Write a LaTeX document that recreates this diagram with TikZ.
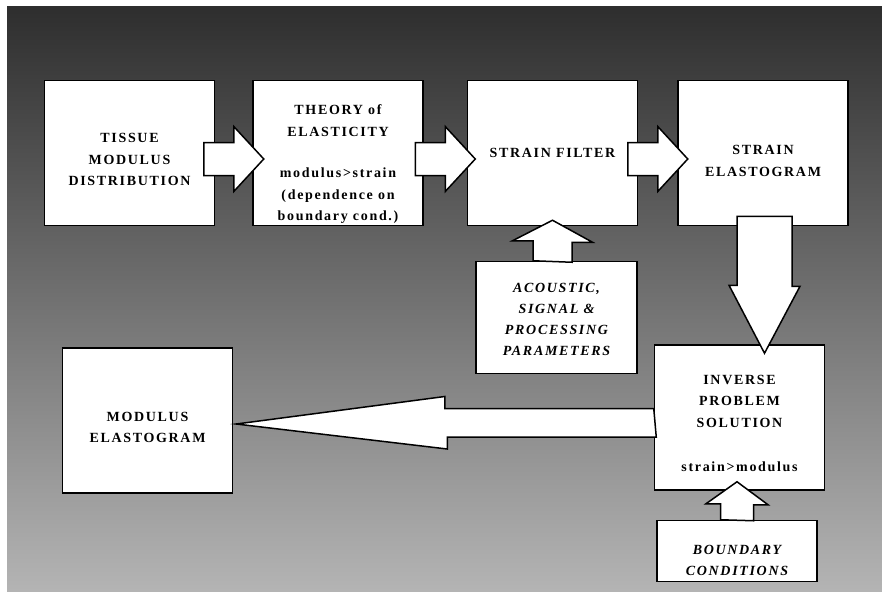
\documentclass[tikz,border=0pt]{standalone}
\usepackage{fontspec}
\usepackage{tikz}
\usetikzlibrary{calc,positioning}
\newfontfamily\boxfont{Liberation Serif}[LetterSpace=12]
\definecolor{bgtop}{RGB}{46,46,46}
\definecolor{bgbottom}{RGB}{180,180,180}
\newcommand{\textdrop}[1]{\rule{0pt}{#1}}

\begin{document}
\begin{tikzpicture}[x=1pt,y=-1pt]
			\tikzstyle{box}=[draw=black,fill=white,line width=1.5pt,inner sep=0pt,minimum width=170pt,minimum height=145pt,align=center,font=\boxfont\bfseries\fontsize{14}{21.5}\selectfont]
			\tikzstyle{inbox}=[box,font=\boxfont\bfseries\itshape\fontsize{14}{21}\selectfont]
			\tikzstyle{blockarrow}=[draw=black,fill=white,line width=1.5pt,line join=miter]
			\fill[white] (0,0) rectangle (882,591);
			\useasboundingbox (0,0) rectangle (882,591);
			\shade[top color=bgtop,bottom color=bgbottom] (7,7) rectangle (882,591);
			% top row
			\node[box]    (tissue) at (129.5,153)                          {\textdrop{23pt}TISSUE\\MODULUS\\DISTRIBUTION};
			\node[box]    (theory)[right of=tissue, node distance=208.5pt] {\textdrop{33pt}THEORY of\\ELASTICITY\\[20pt]modulus>strain\\(dependence on\\boundary cond.)};
			\node[box]    (filter)[right of=theory, node distance=214.5pt] {STRAIN FILTER};
			\node[box]    (elast)[right of=filter, node distance=210.5pt]  {\textdrop{25pt}STRAIN\\ELASTOGRAM};
			% inputs and bottom row
			\node[inbox,minimum width=161pt,minimum height=112pt] (acoustic)[below of=filter, node distance=164.5pt, xshift=4pt] {\textdrop{13pt}ACOUSTIC,\\SIGNAL \&\\PROCESSING\\PARAMETERS};
			\node[box]    (inverse)[below of=elast, node distance=264.5pt, xshift=-23.5pt] {\textdrop{21pt}INVERSE\\PROBLEM\\SOLUTION\\[23pt]strain>modulus};
			\node[inbox,minimum width=160pt,minimum height=61pt] (boundary)[below of=inverse, node distance=133.5pt, xshift=-2.5pt] {\textdrop{29pt}BOUNDARY\\CONDITIONS};
			\node[box]    (modulus)[below of=tissue, node distance=267.5pt, xshift=18pt] {\textdrop{23pt}MODULUS\\ELASTOGRAM};
			% block arrows
			\draw[blockarrow] ($(tissue.east)!0.5!(theory.west)$) ++(-30,-10.5) -- ++(30,0) -- ++(0,-16) -- ++(30,32.5) -- ++(-30,32.5) -- ++(0,-16) -- ++(-30,0) -- cycle;
			\draw[blockarrow] ($(theory.east)!0.5!(filter.west)$) ++(-30,-10.5) -- ++(30,0) -- ++(0,-16) -- ++(30,32.5) -- ++(-30,32.5) -- ++(0,-16) -- ++(-30,0) -- cycle;
			\draw[blockarrow] ($(filter.east)!0.5!(elast.west)$) ++(-30,-10.5) -- ++(30,0) -- ++(0,-16) -- ++(30,32.5) -- ++(-30,32.5) -- ++(0,-16) -- ++(-30,0) -- cycle;
			\draw[blockarrow] (elast.south) ++(-26,-10) -- ++(55,0) -- ++(0,70) -- ++(8,0) -- ($(inverse.north)+(25,9)$) -- ++(-35.5,-68) -- ++(8,0) -- cycle;
			\draw[blockarrow] (acoustic.north) ++(-23.5,0) -- ++(0,-20) -- ++(-20.5,0) -- ($(filter.south)+(0,-6)$) -- ++(40,22) -- ++(-20.5,0) -- ++(0,20) -- cycle;
			\draw[blockarrow] (boundary.north) ++(-16.5,0) -- ++(0,-16) -- ++(-14.5,0) -- ($(inverse.south)+(-2.5,-9)$) -- ++(31,23) -- ++(-14.5,0) -- ++(0,16) -- cycle;
			\draw[blockarrow] (inverse.west) ++(0,-9) -- ++(-209,0) -- ++(0,-12) -- ($(modulus.east)+(3,3.5)$) -- ++(211,25) -- ++(0,-12) -- ++(209,0) -- cycle;
		\end{tikzpicture}
\end{document}
